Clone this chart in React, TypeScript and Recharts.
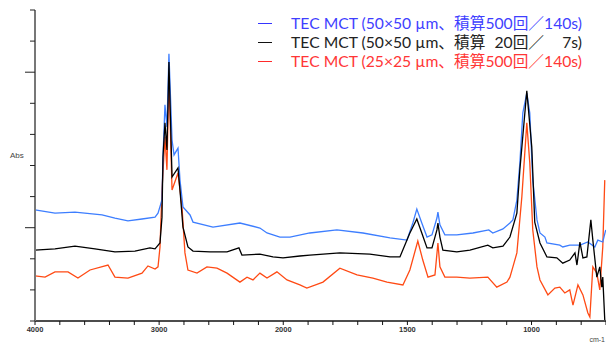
import { LineChart, Line, XAxis, YAxis } from "recharts";

// wavenumber (cm-1), absorbance (arbitrary units, 0..10 full scale)
const blue: [number, number][] = [
  [4000, 3.57], [3839, 3.47], [3678, 3.5], [3460, 3.41], [3356, 3.31], [3251, 3.22],
  [3138, 3.28], [3033, 3.34], [3009, 3.47], [2977, 3.89], [2969, 5.27], [2953, 6.95],
  [2937, 6.24], [2921, 8.59], [2896, 5.82], [2880, 5.34], [2848, 5.56], [2832, 4.53],
  [2808, 3.67], [2751, 3.41], [2727, 3.18], [2566, 3.02], [2349, 3.15], [2188, 2.99],
  [2131, 2.83], [2027, 2.7], [1973, 2.7], [1893, 2.83], [1784, 2.93], [1679, 2.83],
  [1570, 2.67], [1502, 2.6], [1478, 3.15], [1462, 3.6], [1442, 3.15], [1421, 2.7],
  [1401, 2.77], [1381, 3.31], [1377, 3.5], [1369, 3.09], [1349, 2.77], [1301, 2.77],
  [1236, 2.83], [1172, 2.93], [1156, 2.83], [1115, 2.96], [1087, 3.15], [1075, 3.25],
  [1059, 3.89], [1047, 5.08], [1035, 6.69], [1019, 7.33], [1007, 6.69], [995, 4.53],
  [978, 3.25], [966, 2.83], [946, 2.7], [938, 2.51], [886, 2.44], [874, 2.38],
  [846, 2.44], [805, 2.44], [773, 2.54], [745, 2.38], [733, 2.6], [713, 2.54], [701, 2.93],
];

const black: [number, number][] = [
  [4000, 2.28], [3839, 2.32], [3678, 2.41], [3517, 2.32], [3356, 2.22], [3195, 2.25],
  [3074, 2.35], [3033, 2.32], [2993, 2.51], [2977, 3.34], [2969, 5.27], [2953, 6.37],
  [2937, 5.5], [2921, 8.33], [2896, 4.63], [2848, 4.92], [2832, 4.21], [2808, 3.02],
  [2768, 2.38], [2727, 2.25], [2590, 2.22], [2453, 2.22], [2357, 2.35], [2333, 2.12],
  [2188, 2.15], [2083, 2.06], [2002, 2.03], [1933, 2.09], [1893, 2.12], [1772, 2.19],
  [1651, 2.15], [1570, 2.06], [1530, 2.06], [1490, 2.83], [1462, 3.28], [1442, 2.83],
  [1421, 2.35], [1401, 2.35], [1381, 2.93], [1377, 3.15], [1369, 2.7], [1357, 2.28],
  [1301, 2.22], [1248, 2.28], [1176, 2.44], [1156, 2.35], [1115, 2.41], [1087, 2.7],
  [1059, 3.47], [1047, 4.86], [1019, 7.4], [999, 5.59], [987, 3.18], [966, 2.51],
  [938, 2.06], [898, 2.03], [874, 1.86], [846, 1.96], [825, 2.19], [817, 1.8],
  [805, 2.54], [793, 2.03], [777, 2.06], [761, 3.25], [753, 2.6], [737, 1.41],
  [725, 1.74], [717, 1.09], [713, 1.41], [705, 0.03],
];

const red: [number, number][] = [
  [4000, 1.45], [3919, 1.41], [3839, 1.58], [3734, 1.58], [3654, 1.38], [3557, 1.64],
  [3412, 1.8], [3356, 1.41], [3251, 1.38], [3138, 1.54], [3090, 1.77], [3033, 1.67],
  [3009, 1.74], [2993, 2.38], [2977, 4.21], [2953, 5.92], [2937, 4.86], [2921, 7.91],
  [2896, 4.21], [2848, 4.76], [2816, 3.67], [2792, 2.19], [2768, 1.64], [2695, 1.54],
  [2615, 1.74], [2534, 1.7], [2453, 1.54], [2349, 1.25], [2292, 1.41], [2244, 1.32],
  [2188, 1.54], [2131, 1.38], [2051, 1.58], [1985, 1.32], [1933, 1.16], [1905, 1.06],
  [1840, 1.25], [1772, 1.7], [1703, 1.48], [1639, 1.38], [1582, 1.25], [1518, 1.16],
  [1490, 1.64], [1458, 2.57], [1438, 1.96], [1417, 1.41], [1389, 1.48], [1377, 2.51],
  [1369, 1.74], [1349, 1.41], [1301, 1.41], [1248, 1.38], [1176, 1.41], [1140, 1.09],
  [1099, 1.25], [1087, 1.41], [1075, 1.74], [1059, 2.19], [1039, 3.99], [1019, 6.37],
  [1007, 5.08], [995, 2.93], [978, 1.74], [966, 1.32], [934, 0.84], [906, 1.06],
  [886, 1.09], [866, 0.9], [846, 1.0], [833, 0.51], [813, 1.16], [793, 0.84],
  [773, 0.26], [765, 0.13], [753, 1.74], [737, 1.54], [725, 1.0], [713, 2.38], [705, 4.53],
];

// figure spaces keep the counts/times right-aligned like the original legend
const seriesNames = [
  "TEC MCT (50×50 µm、積算500回／140s)",
  "TEC MCT (50×50 µm、積算\u200720回／\u2007\u20077s)",
  "TEC MCT (25×25 µm、積算500回／140s)",
];
const tickWavenumbers = [4000, 3000, 2000, 1500, 1000];
const tickLabels = ["4000", "3000", "2000", "1500", "1000"];

// axis is compressed 2x above 2000 cm-1
const toU = (w: number) => (w >= 2000 ? (4000 - w) / 2 : 1000 + (2000 - w));
const build = (s: [number, number][]) => s.map(([w, a]) => ({ u: toU(w), a }));

const minorTicks: number[] = [];
for (let u = 0; u <= 2300; u += 100) minorTicks.push(u);

const legendRows = [
  { name: seriesNames[0], dash: "#3535ff", text: "#3f3fff" },
  { name: seriesNames[1], dash: "#111", text: "#222" },
  { name: seriesNames[2], dash: "#ff2a2a", text: "#ff3636" },
];

const XTick = (props: any) => {
  const { x, y, payload } = props;
  const i = tickWavenumbers.findIndex((w) => toU(w) === payload.value);
  if (i < 0) return null;
  return (
    <text x={x} y={y} dy={6} textAnchor="middle" fontSize={7.5} fontWeight="bold"
      fontFamily="Liberation Sans, Arial, sans-serif" fill="#333">
      {tickLabels[i]}
    </text>
  );
};

const YTick = (props: any) => {
  const { x, y, payload } = props;
  const len = payload.value === 3 || payload.value === 8 ? 10 : 5;
  return <line x1={x - len} x2={x} y1={y} y2={y} stroke="#222" strokeWidth={1} />;
};

export default function App() {
  return (
    <div style={{ position: "absolute", left: 0, top: 0, width: 606, height: 343 }}>
      <LineChart width={606} height={343} margin={{ top: 10, right: 0, left: 0, bottom: 0 }}>
        <XAxis
          xAxisId="top"
          orientation="top"
          type="number"
          dataKey="u"
          domain={[0, 2300]}
          height={0}
          tick={false}
          tickLine={false}
          axisLine={{ stroke: "#444", strokeWidth: 1.5 }}
        />
        <XAxis
          type="number"
          dataKey="u"
          domain={[0, 2300]}
          ticks={minorTicks}
          interval={0}
          height={22}
          tickSize={4}
          tickMargin={1}
          tick={<XTick />}
          tickLine={{ stroke: "#111" }}
          axisLine={{ stroke: "#111", strokeWidth: 1.5 }}
          label={{ value: "cm-1", position: "insideBottomRight", offset: 1, fontSize: 7, fill: "#444", fontFamily: "Liberation Sans, Arial, sans-serif" }}
        />
        <YAxis
          type="number"
          domain={[0, 10]}
          ticks={[0, 1, 2, 3, 4, 5, 6, 7, 8, 9, 10]}
          interval={0}
          width={35}
          allowDataOverflow
          tickSize={0}
          tickMargin={0}
          tickLine={false}
          tick={<YTick />}
          axisLine={{ stroke: "#777", strokeWidth: 2 }}
          label={{ value: "Abs", position: "insideLeft", offset: 10, dy: -10, fontSize: 8, fill: "#444", fontFamily: "Liberation Sans, Arial, sans-serif" }}
        />
        <Line data={build(red)} dataKey="a" type="linear" stroke="#ff4a14" strokeWidth={1.3} dot={false} activeDot={false} isAnimationActive={false} />
        <Line data={build(blue)} dataKey="a" type="linear" stroke="#3d7eff" strokeWidth={1.3} dot={false} activeDot={false} isAnimationActive={false} />
        <Line data={build(black)} dataKey="a" type="linear" stroke="#000" strokeWidth={1.3} dot={false} activeDot={false} isAnimationActive={false} />
      </LineChart>
      <div style={{ position: "absolute", top: 14, left: 258, fontFamily: "Lato, 'Noto Sans CJK JP', sans-serif", fontSize: 15.7, lineHeight: "19px" }}>
        {legendRows.map((r) => (
          <div key={r.name} style={{ display: "flex", alignItems: "center", height: 19 }}>
            <span style={{ display: "inline-block", width: 14, height: 1, background: r.dash, marginRight: 16 }} />
            <span style={{ color: r.text, whiteSpace: "pre", width: 294, textAlign: "right" }}>{r.name}</span>
          </div>
        ))}
      </div>
    </div>
  );
}
